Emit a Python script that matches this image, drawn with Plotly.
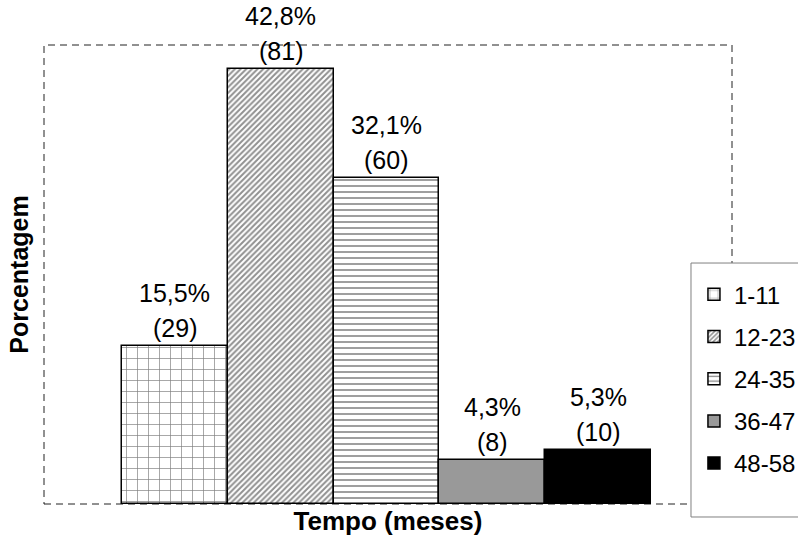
import plotly.graph_objects as go

# Distribution by time interval (months)
groups = ["1-11", "12-23", "24-35", "36-47", "48-58"]
percent = [15.5, 42.8, 32.1, 4.3, 5.3]
counts = [29, 81, 60, 8, 10]
pct_labels = ["15,5%", "42,8%", "32,1%", "4,3%", "5,3%"]

FONT = "Liberation Sans, Arial, sans-serif"

fills = [
    dict(shape="+", size=11, solidity=0.12, fgcolor="black", bgcolor="white"),
    dict(shape="/", size=4, solidity=0.5, fgcolor="#222222", bgcolor="white"),
    dict(shape="-", size=6, solidity=0.25, fgcolor="black", bgcolor="white"),
    None,
    None,
]
solid = ["white", "white", "white", "#999999", "black"]

fig = go.Figure()
for i, g in enumerate(groups):
    marker = dict(color=solid[i], line=dict(color="black", width=1.5))
    if fills[i] is not None:
        marker["pattern"] = fills[i]
    fig.add_trace(go.Bar(
        x=[i], y=[percent[i]], width=1, name=g, marker=marker,
        legendgroup=g, hoverinfo="skip",
    ))

annotations = []
for i in range(len(groups)):
    annotations.append(dict(
        x=i, y=percent[i], xref="x", yref="y", text=f"({counts[i]})",
        showarrow=False, yanchor="bottom", yshift=2,
        font=dict(family=FONT, size=25, color="black"),
    ))
    annotations.append(dict(
        x=i, y=percent[i], xref="x", yref="y", text=pct_labels[i],
        showarrow=False, yanchor="bottom", yshift=37,
        font=dict(family=FONT, size=25, color="black"),
    ))

shapes = [
    # dashed frame around the plotting area
    dict(type="rect", xref="paper", yref="paper", x0=0, x1=1, y0=0, y1=1,
         line=dict(color="#222222", width=1, dash="7px,5px"),
         fillcolor="rgba(0,0,0,0)", layer="below"),
    # legend box
    dict(type="rect", xref="paper", yref="paper", x0=0.9404, x1=1.2,
         y0=-0.0283, y1=0.525, line=dict(color="#808080", width=1),
         fillcolor="white", layer="above"),
]

fig.update_layout(
    width=798, height=537,
    margin=dict(l=44, r=66, t=45, b=33, autoexpand=False),
    paper_bgcolor="white", plot_bgcolor="white",
    barmode="overlay", bargap=0,
    font=dict(family=FONT, size=23, color="black"),
    showlegend=True,
    legend=dict(
        x=0.9447, xanchor="left", y=0.505, yanchor="top",
        bgcolor="rgba(0,0,0,0)", borderwidth=0,
        font=dict(family=FONT, size=24, color="black"),
        tracegroupgap=8, itemclick=False, itemdoubleclick=False,
    ),
    xaxis=dict(
        range=[-1.237, 5.266], showticklabels=False, showgrid=False,
        zeroline=False, showline=False, ticks="",
        title=dict(text="<b>Tempo (meses)</b>", standoff=7,
                   font=dict(family=FONT, size=26, color="black")),
    ),
    yaxis=dict(
        range=[0, 45.16], showticklabels=False, showgrid=False,
        zeroline=False, showline=False, ticks="",
        title=dict(text="<b>Porcentagem</b>", standoff=7,
                   font=dict(family=FONT, size=25, color="black")),
    ),
    annotations=annotations,
    shapes=shapes,
)

fig.write_html("out.html")
